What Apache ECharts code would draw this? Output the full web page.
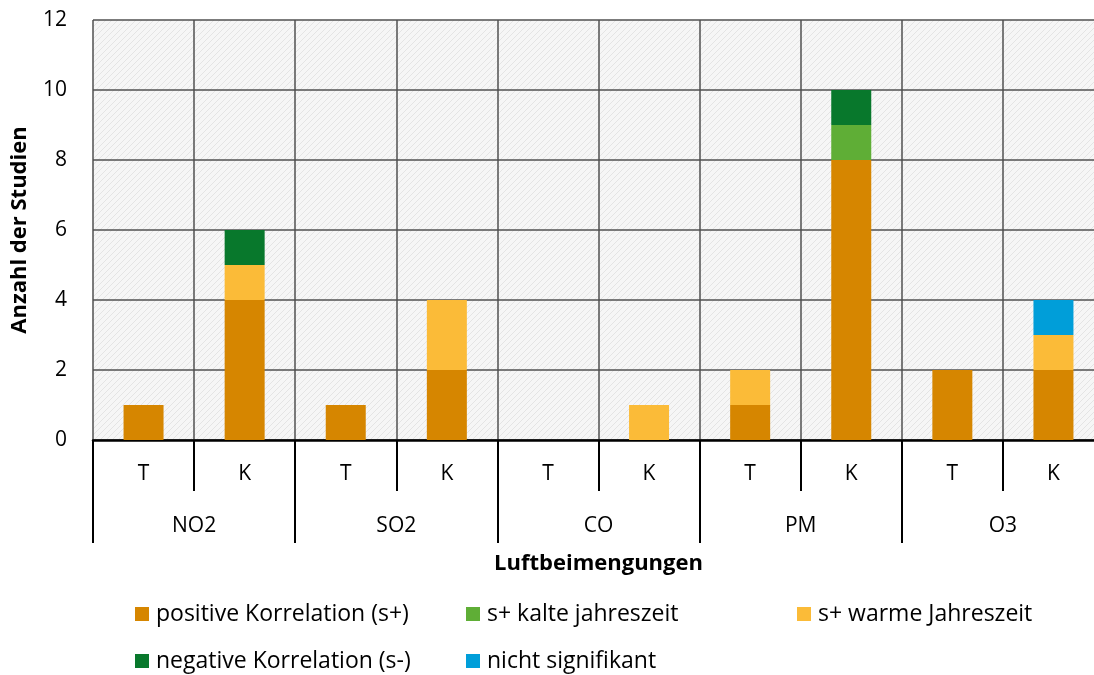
<!DOCTYPE html>
<html>
<head>
<meta charset="utf-8">
<script src="https://cdn.jsdelivr.net/npm/echarts@6/dist/echarts.min.js"></script>
<style>
html,body{margin:0;padding:0;background:#fff;}
#chart{width:1094px;height:675px;}
</style>
</head>
<body>
<div id="chart"></div>
<script>
// ---- data ----
const categories = ['T','K','T','K','T','K','T','K','T','K'];
const groups = ['NO2','SO2','CO','PM','O3'];
const seriesNames = ['positive Korrelation (s+)','s+ kalte jahreszeit','s+ warme Jahreszeit','negative Korrelation (s-)','nicht signifikant'];
const positive = [1,4,1,2,0,0,1,8,2,2];
const kalt     = [0,0,0,0,0,0,0,1,0,0];
const warm     = [0,1,0,2,0,1,1,0,0,1];
const negative = [0,1,0,0,0,0,0,1,0,0];
const nichtSig = [0,0,0,0,0,0,0,0,0,1];
const yMin = 0, yMax = 12, yInterval = 2;

// ---- styling ----
const colors = ['#D68600','#5FAE36','#FBBB38','#08782C','#009ED9'];
const FONT = 'Open Sans';

// hatched background pattern
const pat = document.createElement('canvas');
pat.width = 6; pat.height = 6;
const pc = pat.getContext('2d');
pc.fillStyle = '#f6f6f6'; pc.fillRect(0,0,6,6);
pc.fillStyle = '#e4e4e4';
for (let i = 0; i < 6; i++) { pc.fillRect(i, 5 - i, 1, 1); }

const chart = echarts.init(document.getElementById('chart'));

const valuesList = [positive, kalt, warm, negative, nichtSig];
const series = valuesList.map((vals, i) => ({
  name: seriesNames[i],
  type: 'bar',
  stack: 'total',
  xAxisIndex: 0,
  yAxisIndex: 0,
  barWidth: 40,
  itemStyle: { color: colors[i] },
  data: vals
}));

const legendPos = [[135,601],[466,601],[797,601],[135,648],[466,648]];
const legends = seriesNames.map((n, i) => ({
  data: [n],
  left: legendPos[i][0],
  top: legendPos[i][1],
  padding: 0,
  icon: 'rect',
  itemWidth: 14,
  itemHeight: 14,
  itemGap: 0,
  selectedMode: false,
  textStyle: { fontFamily: FONT, fontSize: 23, color: '#000', lineHeight: 26, padding: [0,0,0,2] }
}));

chart.setOption({
  animation: false,
  textStyle: { fontFamily: FONT },
  grid: {
    left: 93, top: 20, width: 1011, height: 420,
    containLabel: false, outerBoundsMode: 'none',
    show: true, borderWidth: 0,
    backgroundColor: { image: pat, repeat: 'repeat' }
  },
  legend: legends,
  xAxis: [
    {
      type: 'category',
      data: categories,
      boundaryGap: true,
      position: 'bottom',
      name: 'Luftbeimengungen',
      nameLocation: 'middle',
      nameGap: 113,
      nameTextStyle: { fontFamily: FONT, fontSize: 22, fontWeight: 'bold', color: '#000' },
      axisLine: { show: true, lineStyle: { color: '#000', width: 2.5 } },
      axisTick: { show: true, interval: 0, length: 51, lineStyle: { color: '#000', width: 2 } },
      axisLabel: { interval: 0, margin: 24, fontFamily: FONT, fontSize: 21, color: '#000' },
      splitLine: { show: true, interval: 0, lineStyle: { color: '#505050', width: 1.5 } }
    },
    {
      type: 'category',
      data: groups,
      boundaryGap: true,
      position: 'bottom',
      offset: 0,
      axisLine: { show: false },
      axisTick: { show: true, interval: 0, length: 103, lineStyle: { color: '#000', width: 2 } },
      axisLabel: { interval: 0, margin: 76, fontFamily: FONT, fontSize: 21, color: '#000' },
      splitLine: { show: false }
    }
  ],
  yAxis: {
    type: 'value',
    min: yMin, max: yMax, interval: yInterval,
    name: 'Anzahl der Studien',
    nameLocation: 'middle',
    nameRotate: 90,
    nameGap: 62,
    nameTextStyle: { fontFamily: FONT, fontSize: 22, fontWeight: 'bold', color: '#000' },
    axisLine: { show: false },
    axisTick: { show: false },
    axisLabel: { margin: 26, fontFamily: FONT, fontSize: 21, color: '#000' },
    splitLine: { show: true, lineStyle: { color: '#505050', width: 1.5 } }
  },
  series: series
});
</script>
</body>
</html>
